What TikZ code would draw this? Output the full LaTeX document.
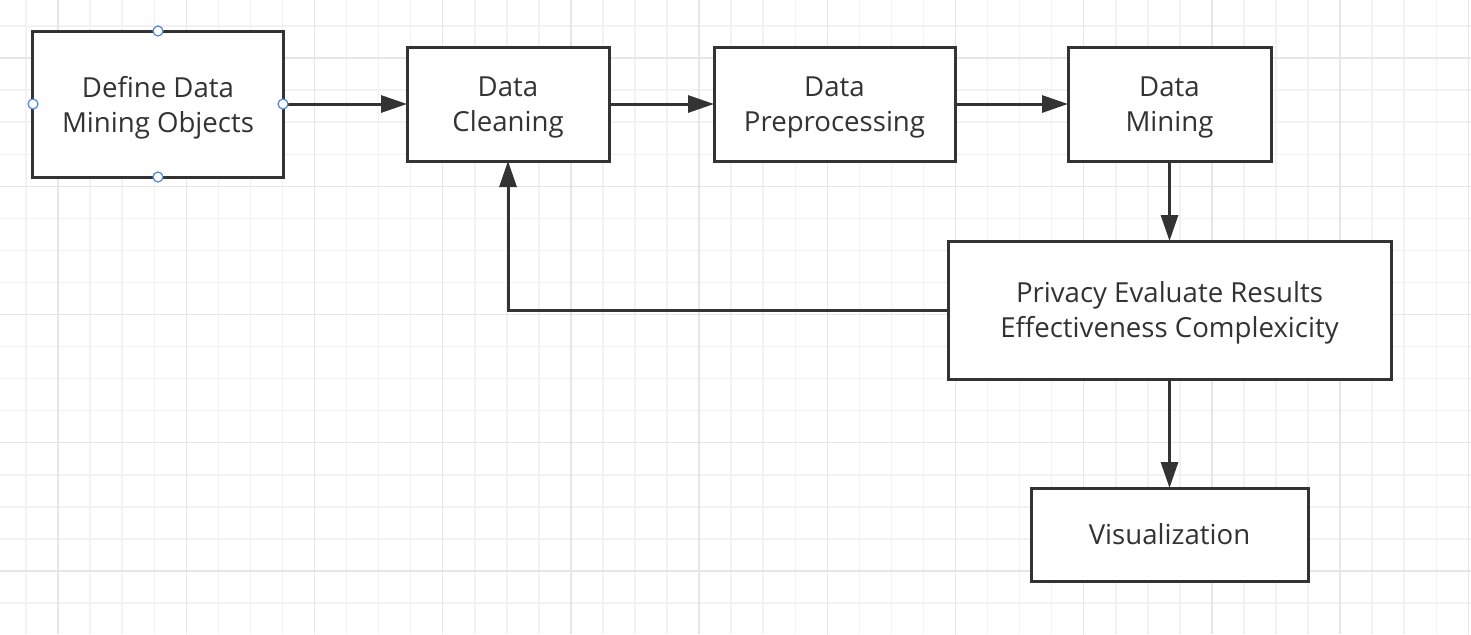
\documentclass[tikz,border=0pt]{standalone}
\usepackage{fontspec}
\setmainfont{Open Sans}
\usetikzlibrary{arrows.meta,positioning}
\definecolor{ink}{HTML}{333333}
\definecolor{gridmin}{HTML}{F2F2F2}
\definecolor{gridmaj}{HTML}{E6E6E6}
\definecolor{handle}{HTML}{4A86E8}

\begin{document}
\begin{tikzpicture}[
            node distance=0pt,
            font=\fontsize{13.8}{17.5}\selectfont,
                X/.style = {rectangle, draw=ink, line width=1.5pt,% process boxes
                            fill=white, text=ink, align=center,
                            inner sep=0pt, outer sep=0pt, text depth=0pt,
                            minimum height=57pt},
                A/.style = {draw=ink, line width=1.5pt,
                            -{Triangle[length=13pt,width=8.5pt]}},
                H/.style = {draw=handle, line width=0.6pt, fill=white},% selection handles
                ]
            % background grid
            \useasboundingbox (-29.05pt,-287.95pt) rectangle (706.45pt,29.05pt);
            \fill[white] (-29.05pt,-287.95pt) rectangle (706.45pt,29.05pt);
            \draw[gridmin, line width=0.75pt] (-29.05pt,-287.95pt) grid[step=16.025pt] (706.45pt,29.05pt);
            \draw[gridmaj, line width=0.75pt] (-29.05pt,-287.95pt) grid[step=64.1pt] (706.45pt,29.05pt);

            \node[X, minimum width=125pt, minimum height=73pt] (obj) at (49.95pt,-22.95pt) {Define Data\\Mining Objects};
            \node[X, minimum width=101pt, right=62pt of obj] (clean) {Data\\Cleaning};
            \node[X, minimum width=120.5pt, right=52.5pt of clean] (prep) {Data\\Preprocessing};
            \node[X, minimum width=101.5pt, right=56.5pt of prep] (mine) {Data\\Mining};
            \node[X, minimum width=221.5pt, minimum height=69pt, below=40pt of mine] (eval) {Privacy Evaluate Results\\Effectiveness Complexicity};
            \node[X, minimum width=138.5pt, minimum height=46.5pt, below=54.5pt of eval] (vis) {Visualization};

            \draw[A] (obj) -- (clean);
            \draw[A] (clean) -- (prep);
            \draw[A] (prep) -- (mine);
            \draw[A] (mine) -- (eval);
            \draw[A] (eval) -- (vis);
            \draw[A] (eval.west) -| (clean.south);
            \foreach \a in {north,south,east,west}
                \draw[H] (obj.\a) circle (2.5pt);
        \end{tikzpicture}
\end{document}
